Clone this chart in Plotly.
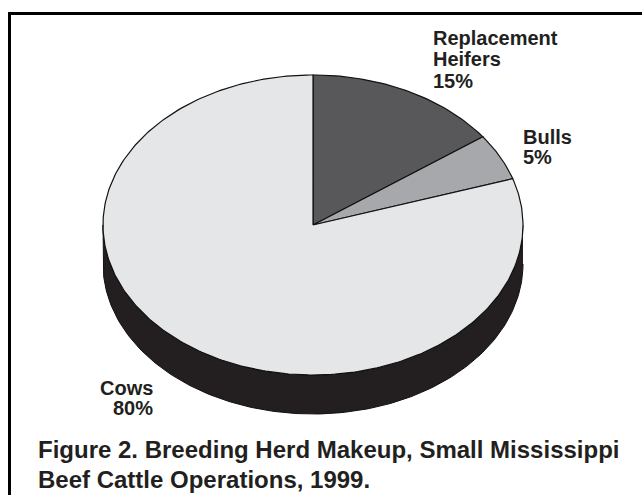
import numpy as np
import plotly.graph_objects as go

# Breeding herd makeup (percent of head), clockwise from 12 o'clock
categories = ["Replacement Heifers", "Bulls", "Cows"]
shares = [15, 5, 80]
label_lines = [["Replacement", "Heifers"], ["Bulls"], ["Cows"]]

caption_lines = [
    "Figure 2. Breeding Herd Makeup, Small Mississippi",
    "Beef Cattle Operations, 1999.",
]

W, H = 642, 495
FONT = "Liberation Sans, Arial, Helvetica, sans-serif"

# tilted pie geometry in page pixels (y grows downward)
cx, cy = 313, 225
rx, ry = 210, 150
depth = 39

top_colors = ["#58585a", "#a7a8ab", "#e5e6e7"]
side_color = "#231f20"


def rim(theta):
    """Point on the top ellipse, theta measured clockwise from 12 o'clock."""
    return cx + rx * np.sin(theta), cy - ry * np.cos(theta)


fig = go.Figure()

# visible side wall: front half of the ellipse dropped by the depth
t = np.linspace(np.pi / 2, 3 * np.pi / 2, 200)
sx, sy = rim(t)
fig.add_trace(go.Scatter(
    x=np.concatenate([sx, sx[::-1]]),
    y=np.concatenate([sy, sy[::-1] + depth]),
    fill="toself", fillcolor=side_color,
    line=dict(color="#111111", width=1), mode="lines",
    hoverinfo="skip", showlegend=False,
))

# top face slices
total = float(sum(shares))
start = 0.0
for name, val, col in zip(categories, shares, top_colors):
    end = start + 2 * np.pi * val / total
    th = np.linspace(start, end, max(8, int(val * 4)))
    px, py = rim(th)
    fig.add_trace(go.Scatter(
        x=np.concatenate([[cx], px, [cx]]),
        y=np.concatenate([[cy], py, [cy]]),
        fill="toself", fillcolor=col,
        line=dict(color="#111111", width=1.2), mode="lines",
        name=name, hoverinfo="name", showlegend=False,
    ))
    start = end


def line_text(text, x, baseline, size, xanchor="left"):
    fig.add_annotation(
        x=x, y=baseline - 0.36 * size, text=text, showarrow=False,
        xanchor=xanchor, yanchor="middle",
        font=dict(family=FONT, size=size, color="#231f20", weight="bold"),
    )


# slice labels
lab = 20
heifer_lines = label_lines[0] + [f"{shares[0]}%"]
for i, s in enumerate(heifer_lines):
    line_text(s, 431, 45 + i * 21.5, lab)
bull_lines = label_lines[1] + [f"{shares[1]}%"]
for i, s in enumerate(bull_lines):
    line_text(s, 521, 144 + i * 20.5, lab)
cow_lines = label_lines[2] + [f"{shares[2]}%"]
for i, s in enumerate(cow_lines):
    line_text(s, 155, 395 + i * 20.5, lab, xanchor="right")

# caption
for i, s in enumerate(caption_lines):
    line_text(s, 36, 458 + i * 30, 24)

# frame around the figure
fig.add_shape(type="rect", x0=9.5, y0=13.5, x1=W + 5, y1=H + 5,
              line=dict(color="#000000", width=3), layer="above")

fig.update_layout(
    width=W, height=H,
    margin=dict(l=0, r=0, t=0, b=0),
    paper_bgcolor="white", plot_bgcolor="white",
    xaxis=dict(range=[0, W], visible=False, fixedrange=True),
    yaxis=dict(range=[H, 0], visible=False, fixedrange=True),
    showlegend=False,
)

fig.write_html("out.html")
